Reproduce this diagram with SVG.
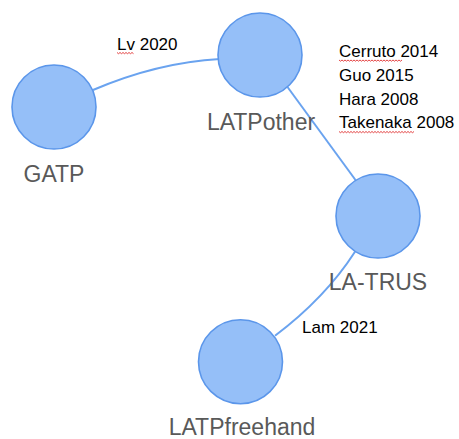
<svg xmlns="http://www.w3.org/2000/svg" width="459" height="439" viewBox="0 0 459 439">
<defs>
<style>
.node{fill:#95bff8;stroke:#5b96ea;stroke-width:1.6}
.nl{font-family:"Liberation Sans",Arial,sans-serif;font-size:23px;fill:#595959;text-anchor:middle}
.el{font-family:"Liberation Sans",Arial,sans-serif;font-size:17px;fill:#000}
.edge{fill:none;stroke:#6aa3ef;stroke-width:2}
.sq{fill:none;stroke:#e03030;stroke-width:0.9}
</style>
</defs>
<rect width="459" height="439" fill="#fff"/>
<g id="connectors">
<path class="edge" d="M93,90 Q157.5,62.5 220,59"/>
<path class="edge" d="M287.5,87 L355.5,180"/>
<path class="edge" d="M355,251.7 Q325.3,297.8 275,335.7"/>
</g>
<g id="GATP"><circle class="node" cx="54" cy="107" r="42"/><text class="nl" x="54" y="182">GATP</text></g>
<g id="LATPother"><circle class="node" cx="260" cy="55" r="42"/><text class="nl" x="261" y="130">LATPother</text></g>
<g id="LA-TRUS"><circle class="node" cx="378" cy="216" r="42"/><text class="nl" x="378" y="290">LA-TRUS</text></g>
<g id="LATPfreehand"><circle class="node" cx="240.5" cy="361.7" r="42"/><text class="nl" x="242" y="435">LATPfreehand</text></g>
<g id="edge-labels">
<text class="el" x="117" y="50">Lv 2020</text>
<text class="el" x="339" y="57">Cerruto 2014</text>
<text class="el" x="339" y="81">Guo 2015</text>
<text class="el" x="339" y="105">Hara 2008</text>
<text class="el" x="339" y="128">Takenaka 2008</text>
<text class="el" x="302" y="333">Lam 2021</text>
<path class="sq" d="M117,52.5 l1.5,1.2 1.5,-1.2 1.5,1.2 1.5,-1.2 1.5,1.2 1.5,-1.2 1.5,1.2 1.5,-1.2 1.5,1.2 1.5,-1.2 1.5,1.2"/>
<path class="sq" d="M339,60 l1.5,1.2 1.5,-1.2 1.5,1.2 1.5,-1.2 1.5,1.2 1.5,-1.2 1.5,1.2 1.5,-1.2 1.5,1.2 1.5,-1.2 1.5,1.2 1.5,-1.2 1.5,1.2 1.5,-1.2 1.5,1.2 1.5,-1.2 1.5,1.2 1.5,-1.2 1.5,1.2 1.5,-1.2 1.5,1.2 1.5,-1.2 1.5,1.2 1.5,-1.2 1.5,1.2 1.5,-1.2 1.5,1.2 1.5,-1.2 1.5,1.2 1.5,-1.2 1.5,1.2 1.5,-1.2 1.5,1.2 1.5,-1.2 1.5,1.2 1.5,-1.2 1.5,1.2 1.5,-1.2 1.5,1.2 1.5,-1.2 1.5,1.2 1.5,-1.2"/>
<path class="sq" d="M339,131.5 l1.5,1.2 1.5,-1.2 1.5,1.2 1.5,-1.2 1.5,1.2 1.5,-1.2 1.5,1.2 1.5,-1.2 1.5,1.2 1.5,-1.2 1.5,1.2 1.5,-1.2 1.5,1.2 1.5,-1.2 1.5,1.2 1.5,-1.2 1.5,1.2 1.5,-1.2 1.5,1.2 1.5,-1.2 1.5,1.2 1.5,-1.2 1.5,1.2 1.5,-1.2 1.5,1.2 1.5,-1.2 1.5,1.2 1.5,-1.2 1.5,1.2 1.5,-1.2 1.5,1.2 1.5,-1.2 1.5,1.2 1.5,-1.2 1.5,1.2 1.5,-1.2 1.5,1.2 1.5,-1.2 1.5,1.2 1.5,-1.2 1.5,1.2 1.5,-1.2 1.5,1.2 1.5,-1.2 1.5,1.2 1.5,-1.2 1.5,1.2 1.5,-1.2 1.5,1.2 1.5,-1.2"/>
</g>
</svg>
